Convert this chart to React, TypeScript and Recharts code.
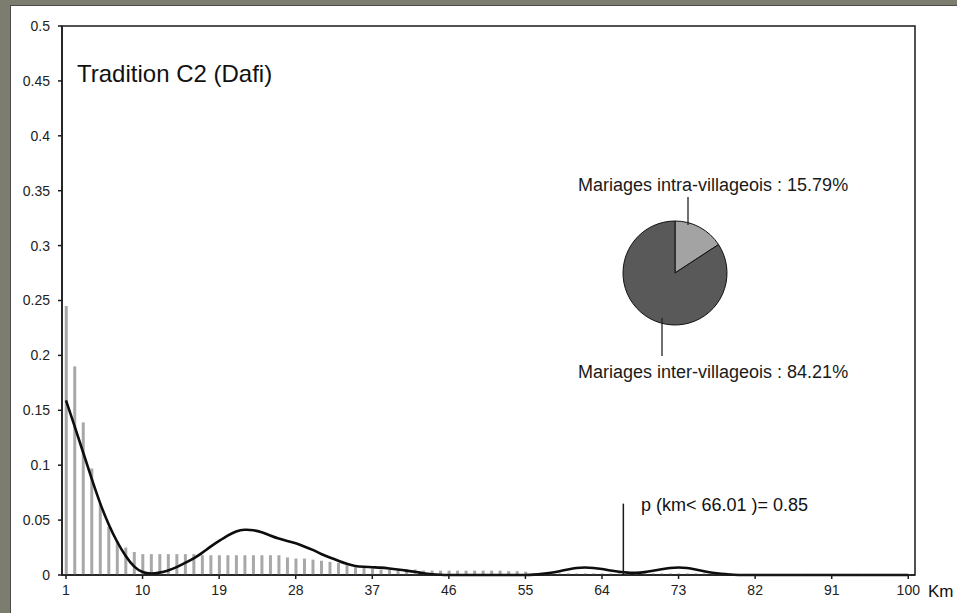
import {
  ComposedChart,
  Bar,
  Line,
  XAxis,
  YAxis,
  ReferenceLine,
  ReferenceArea,
  PieChart,
  Pie,
  Cell,
} from "recharts";

const FONT = "'Liberation Sans', Arial, sans-serif";

// distance classes (km)
const KM = Array.from({ length: 100 }, (_, i) => i + 1);

// observed frequency per distance class
const FREQ = [
  0.245, 0.19, 0.139, 0.097, 0.065, 0.044, 0.031, 0.025, 0.021, 0.019,
  0.019, 0.019, 0.019, 0.019, 0.019, 0.019, 0.018, 0.018, 0.018, 0.018,
  0.018, 0.018, 0.018, 0.018, 0.018, 0.018, 0.016, 0.015, 0.015, 0.014,
  0.013, 0.012, 0.011, 0.009, 0.007, 0.0065, 0.006, 0.005, 0.005, 0.005,
  0.005, 0.005, 0.004, 0.004, 0.004, 0.004, 0.004, 0.004, 0.004, 0.004,
  0.004, 0.004, 0.0035, 0.0035, 0.003, 0.0015, 0.0015, 0.0015, 0.0015, 0.0015,
  0.0015, 0.0015, 0.0015, 0.0015, 0.0015, 0.0015, 0.0015, 0.0015, 0.0015, 0.0015,
  0.0015, 0.0015, 0.0015, 0.0015, 0.0015, 0.0015, 0.0015, 0.0015, 0.0015, 0.001,
  0.001, 0.001, 0.001, 0.001, 0.001, 0.001, 0.001, 0.001, 0.001, 0.001,
  0.001, 0.001, 0.001, 0.001, 0.001, 0.001, 0.001, 0.001, 0.001, 0.001,
];

// smoothed density
const DENSITY = [
  0.159, 0.136, 0.112, 0.088, 0.065, 0.046, 0.03, 0.017, 0.007, 0.002,
  0.001, 0.002, 0.004, 0.007, 0.011, 0.015, 0.02, 0.026, 0.031, 0.036,
  0.04, 0.0415, 0.041, 0.039, 0.036, 0.033, 0.031, 0.029, 0.026, 0.023,
  0.019, 0.016, 0.013, 0.01, 0.008, 0.0075, 0.007, 0.0068, 0.006, 0.005,
  0.004, 0.003, 0.0015, 0.0007, 0.0002, 0, 0, 0, 0, 0,
  0, 0, 0, 0, 0, 0.0003, 0.001, 0.002, 0.0035, 0.005,
  0.0065, 0.007, 0.0065, 0.0055, 0.004, 0.003, 0.002, 0.0018, 0.0025, 0.0038,
  0.0052, 0.0065, 0.007, 0.0065, 0.005, 0.0035, 0.002, 0.001, 0.0004, 0,
  0, 0, 0, 0, 0, 0, 0, 0, 0, 0,
  0, 0, 0, 0, 0, 0, 0, 0, 0, 0,
];

const X_TICKS = [1, 10, 19, 28, 37, 46, 55, 64, 73, 82, 91, 100];
const Y_TICKS = [0, 0.05, 0.1, 0.15, 0.2, 0.25, 0.3, 0.35, 0.4, 0.45, 0.5];
const X_DOMAIN = [0.53, 100.79];

// cumulative probability marker (classes are labelled by their upper bound)
const P_KM = 66.01;
const P_VALUE = 0.85;
const P_LINE_X = P_KM + 0.5;
const P_LINE_TOP = 0.065;

const PIE_NAMES = ["Mariages intra-villageois", "Mariages inter-villageois"];
const PIE_VALUES = [15.79, 84.21];
const PIE_COLORS = ["#a3a3a3", "#595959"];

const data = KM.map((km, i) => ({ km, freq: FREQ[i], dens: DENSITY[i] }));
const pieData = PIE_NAMES.map((name, i) => ({ name, value: PIE_VALUES[i] }));

const renderPieLabel = (props: any) => {
  const { cx, cy, index } = props;
  const d = pieData[index];
  const text = `${d.name} : ${d.value.toFixed(2)}%`;
  const top = index === 0;
  const lx = top ? cx + 13 : cx - 13;
  return (
    <g key={`lbl-${index}`}>
      <line
        x1={lx}
        x2={lx}
        y1={top ? cy - 76 : cy + 45}
        y2={top ? cy - 48 : cy + 83}
        stroke="#222"
        strokeWidth={1.3}
      />
      <text
        x={cx - 97}
        y={top ? cy - 82 : cy + 105}
        fill="#1a1a1a"
        fontSize={18}
        fontFamily={FONT}
      >
        {text}
      </text>
    </g>
  );
};

export default function App() {
  return (
    <div
      style={{
        position: "absolute",
        left: 0,
        top: 0,
        width: 957,
        height: 613,
        background: "#7c7d6f",
        overflow: "hidden",
      }}
    >
      <div
        style={{
          position: "absolute",
          left: 10,
          top: 5,
          width: 947,
          height: 608,
          background: "#fff",
          borderLeft: "1px solid #4a4a4a",
          borderTop: "1px solid #4a4a4a",
        }}
      />
      <div style={{ position: "absolute", left: 0, top: 0 }}>
        <ComposedChart
          width={957}
          height={613}
          data={data}
          margin={{ top: 26, right: 42, bottom: 0, left: 0 }}
        >
          <XAxis
            dataKey="km"
            type="number"
            domain={X_DOMAIN}
            allowDataOverflow
            ticks={X_TICKS}
            interval={0}
            height={38}
            tickSize={4}
            tickMargin={6}
            stroke="#1a1a1a"
            strokeWidth={1.5}
            tick={{ fill: "#222", fontSize: 14, fontFamily: FONT }}
          />
          <YAxis
            type="number"
            domain={[0, 0.5]}
            ticks={Y_TICKS}
            interval={0}
            width={62}
            tickSize={4}
            tickMargin={8}
            stroke="#1a1a1a"
            strokeWidth={1.5}
            tick={{ fill: "#222", fontSize: 14, fontFamily: FONT }}
          />
          <ReferenceArea
            x1={X_DOMAIN[0]}
            x2={X_DOMAIN[1]}
            y1={0}
            y2={0.5}
            fill="none"
            stroke="#1a1a1a"
            strokeWidth={1.5}
            ifOverflow="visible"
          />
          <Bar dataKey="freq" fill="#a8a8a8" barSize={3} isAnimationActive={false} />
          <Line
            dataKey="dens"
            type="basis"
            stroke="#0d0d0d"
            strokeWidth={2.6}
            dot={false}
            activeDot={false}
            isAnimationActive={false}
          />
          <ReferenceLine
            segment={[
              { x: P_LINE_X, y: 0 },
              { x: P_LINE_X, y: P_LINE_TOP },
            ]}
            stroke="#1a1a1a"
            strokeWidth={1.5}
          />
        </ComposedChart>
      </div>
      <div style={{ position: "absolute", left: 475, top: 143 }}>
        <PieChart width={400} height={260}>
          <Pie
            data={pieData}
            dataKey="value"
            nameKey="name"
            cx="50%"
            cy="50%"
            outerRadius={52}
            startAngle={90}
            endAngle={-270}
            stroke="#111"
            strokeWidth={1}
            label={renderPieLabel}
            labelLine={false}
            isAnimationActive={false}
          >
            {pieData.map((_, i) => (
              <Cell key={`cell-${i}`} fill={PIE_COLORS[i]} />
            ))}
          </Pie>
        </PieChart>
      </div>
      <svg
        width={957}
        height={613}
        style={{ position: "absolute", left: 0, top: 0, pointerEvents: "none" }}
      >
        <text x={77} y={82} fontSize={24} fill="#111" fontFamily={FONT}>
          Tradition C2 (Dafi)
        </text>
        <text x={641} y={511} fontSize={18} fill="#111" fontFamily={FONT}>
          {`p (km< ${P_KM} )= ${P_VALUE}`}
        </text>
        <text x={928} y={597} fontSize={17} fill="#111" fontFamily={FONT}>
          Km
        </text>
      </svg>
    </div>
  );
}
